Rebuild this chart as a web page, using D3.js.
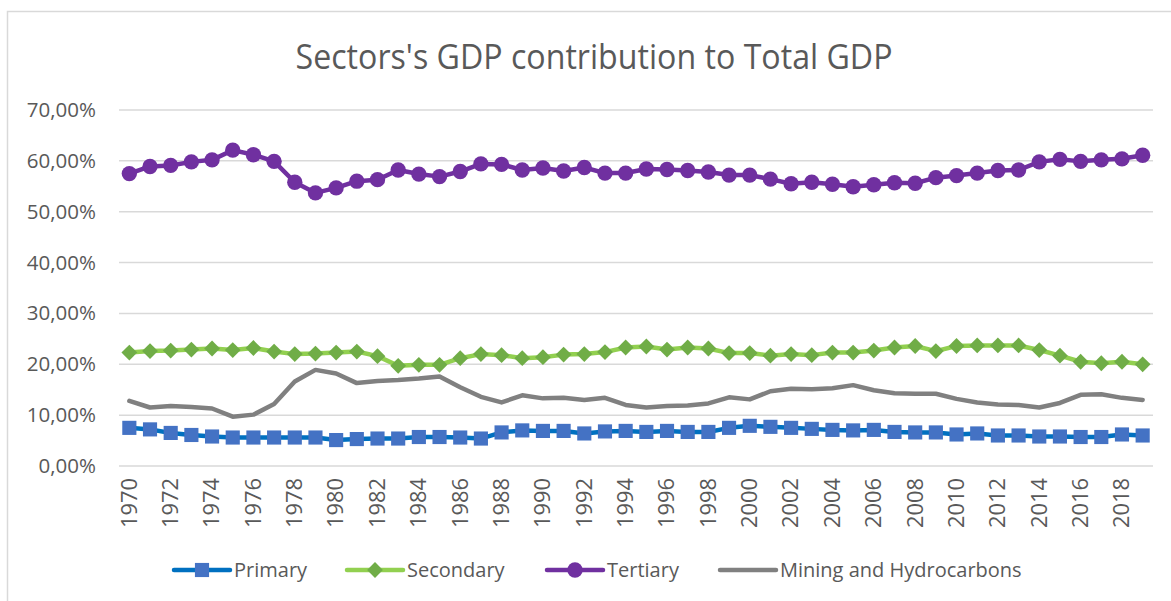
<!DOCTYPE html>
<html>
<head>
<meta charset="utf-8">
<script src="https://cdn.jsdelivr.net/npm/d3@7/dist/d3.min.js"></script>
<style>
  html, body { margin: 0; padding: 0; background: #fff; }
  svg { display: block; font-family: "Open Sans", "Noto Sans", sans-serif; }
</style>
</head>
<body>
<svg id="chart" width="1171" height="601"></svg>
<script>
// Years on the category axis
const years = d3.range(1970, 2020);
// Tick labels shown on the axes
const yearLabels = years.filter(y => y % 2 === 0);
const yTicks = [0, 10, 20, 30, 40, 50, 60, 70];

// Share of total GDP by sector (%)
const primary = [7.5, 7.2, 6.5, 6.1, 5.8, 5.6, 5.6, 5.6, 5.6, 5.6,
                 5.1, 5.3, 5.4, 5.4, 5.7, 5.7, 5.6, 5.4, 6.6, 7.0,
                 6.9, 6.9, 6.4, 6.8, 6.9, 6.7, 6.9, 6.7, 6.7, 7.5,
                 7.9, 7.7, 7.5, 7.3, 7.1, 7.0, 7.1, 6.7, 6.6, 6.6,
                 6.2, 6.4, 6.0, 6.0, 5.8, 5.8, 5.7, 5.7, 6.2, 6.0];
const secondary = [22.3, 22.6, 22.7, 22.9, 23.1, 22.8, 23.2, 22.5, 22.0, 22.1,
                   22.3, 22.5, 21.6, 19.7, 19.9, 19.9, 21.2, 22.0, 21.8, 21.2,
                   21.4, 21.9, 22.0, 22.4, 23.3, 23.5, 22.9, 23.3, 23.1, 22.2,
                   22.2, 21.7, 22.0, 21.8, 22.3, 22.3, 22.7, 23.3, 23.6, 22.6,
                   23.6, 23.7, 23.7, 23.7, 22.8, 21.7, 20.5, 20.2, 20.5, 20.0];
const tertiary = [57.5, 58.9, 59.1, 59.8, 60.2, 62.1, 61.2, 59.9, 55.8, 53.7,
                  54.7, 56.0, 56.3, 58.2, 57.4, 56.9, 57.9, 59.4, 59.3, 58.2,
                  58.6, 58.0, 58.7, 57.6, 57.6, 58.4, 58.3, 58.1, 57.8, 57.2,
                  57.2, 56.4, 55.5, 55.8, 55.4, 54.9, 55.3, 55.7, 55.6, 56.7,
                  57.1, 57.6, 58.1, 58.2, 59.8, 60.3, 59.9, 60.2, 60.4, 61.1];
const mining = [12.8, 11.5, 11.8, 11.6, 11.3, 9.7, 10.1, 12.2, 16.6, 18.9,
                18.2, 16.3, 16.7, 16.9, 17.2, 17.6, 15.5, 13.6, 12.5, 13.9,
                13.3, 13.4, 13.0, 13.4, 12.0, 11.5, 11.8, 11.9, 12.3, 13.5,
                13.1, 14.7, 15.2, 15.1, 15.3, 15.9, 14.9, 14.3, 14.2, 14.2,
                13.2, 12.5, 12.1, 12.0, 11.5, 12.4, 14.0, 14.1, 13.4, 13.0];

const seriesNames = ["Primary", "Secondary", "Tertiary", "Mining and Hydrocarbons"];

// Square diamond: a square turned by 45 degrees
const diamondSquare = {
  draw(context, size) {
    const h = Math.sqrt(size / 2);
    context.moveTo(0, -h);
    context.lineTo(h, 0);
    context.lineTo(0, h);
    context.lineTo(-h, 0);
    context.closePath();
  }
};

const series = [
  { name: seriesNames[0], values: primary,   line: "#0070C0", fill: "#4472C4", symbol: d3.symbolSquare,  size: 200 },
  { name: seriesNames[1], values: secondary, line: "#92D050", fill: "#70AD47", symbol: diamondSquare,    size: 125 },
  { name: seriesNames[2], values: tertiary,  line: "#7030A0", fill: "#7030A0", symbol: d3.symbolCircle,  size: 185 },
  { name: seriesNames[3], values: mining,    line: "#808080", fill: null,      symbol: null,             size: 0 }
];

const svg = d3.select("#chart");
const textColor = "#595959";

// Chart frame
svg.append("rect")
  .attr("x", 7.5).attr("y", 11.5)
  .attr("width", 1300).attr("height", 800)
  .attr("fill", "#fff").attr("stroke", "#D9D9D9").attr("stroke-width", 1.5);

// Title
svg.append("text")
  .attr("x", 594).attr("y", 69)
  .attr("text-anchor", "middle")
  .attr("fill", textColor)
  .attr("font-size", 34)
  .attr("textLength", 597)
  .attr("lengthAdjust", "spacingAndGlyphs")
  .text("Sectors's GDP contribution to Total GDP");

const plot = { left: 119, right: 1153, top: 110, bottom: 466 };

const x = d3.scaleBand().domain(years).range([plot.left, plot.right]);
const cx = yr => x(yr) + x.bandwidth() / 2;
const y = d3.scaleLinear().domain([0, 70]).range([plot.bottom, plot.top]);

// Horizontal gridlines
svg.append("g")
  .selectAll("line")
  .data(yTicks)
  .join("line")
  .attr("x1", plot.left).attr("x2", plot.right)
  .attr("y1", d => y(d)).attr("y2", d => y(d))
  .attr("stroke", "#D9D9D9").attr("stroke-width", 1.5);

// Value axis
const fmt = d => d.toFixed(2).replace(".", ",") + "%";
const yAxis = svg.append("g")
  .attr("transform", "translate(96,0)")
  .call(d3.axisLeft(y).tickValues(yTicks).tickFormat(fmt).tickSize(0).tickPadding(0));
yAxis.select(".domain").remove();
yAxis.selectAll("text")
  .attr("fill", textColor)
  .attr("font-size", 20.5)
  .attr("font-family", "Open Sans, sans-serif");

// Category axis with rotated year labels
const xAxis = svg.append("g")
  .attr("transform", `translate(0,${plot.bottom})`)
  .call(d3.axisBottom(x).tickValues(yearLabels).tickSize(0).tickPadding(0));
xAxis.select(".domain").remove();
xAxis.selectAll("text")
  .attr("fill", textColor)
  .attr("font-size", 21)
  .attr("font-family", "Open Sans, sans-serif")
  .attr("text-anchor", "end")
  .attr("textLength", 50)
  .attr("lengthAdjust", "spacingAndGlyphs")
  .attr("transform", "translate(0,12) rotate(-90)")
  .attr("x", 0).attr("y", 0)
  .attr("dy", "0.35em");

// Series lines and markers
const lineGen = d3.line()
  .x((d, i) => cx(years[i]))
  .y(d => y(d));

series.forEach(s => {
  const g = svg.append("g");
  g.append("path")
    .datum(s.values)
    .attr("d", lineGen)
    .attr("fill", "none")
    .attr("stroke", s.line)
    .attr("stroke-width", 4.5)
    .attr("stroke-linejoin", "round")
    .attr("stroke-linecap", "round");
  if (s.symbol) {
    g.selectAll("path.marker")
      .data(s.values)
      .join("path")
      .attr("class", "marker")
      .attr("d", d3.symbol().type(s.symbol).size(s.size))
      .attr("transform", (d, i) => `translate(${cx(years[i])},${y(d)})`)
      .attr("fill", s.fill);
  }
});

// Legend
const legendY = 570;
const legendX = [174, 347, 547, 720];
const legend = svg.append("g");
series.forEach((s, i) => {
  const g = legend.append("g").attr("transform", `translate(${legendX[i]},${legendY})`);
  g.append("line")
    .attr("x1", 0).attr("x2", 56)
    .attr("stroke", s.line).attr("stroke-width", 4.5)
    .attr("stroke-linecap", "round");
  if (s.symbol) {
    g.append("path")
      .attr("d", d3.symbol().type(s.symbol).size(s.size))
      .attr("transform", "translate(28,0)")
      .attr("fill", s.fill);
  }
  g.append("text")
    .attr("x", 60).attr("dy", "0.35em")
    .attr("fill", textColor)
    .attr("font-size", 20)
    .text(s.name);
});
</script>
</body>
</html>
